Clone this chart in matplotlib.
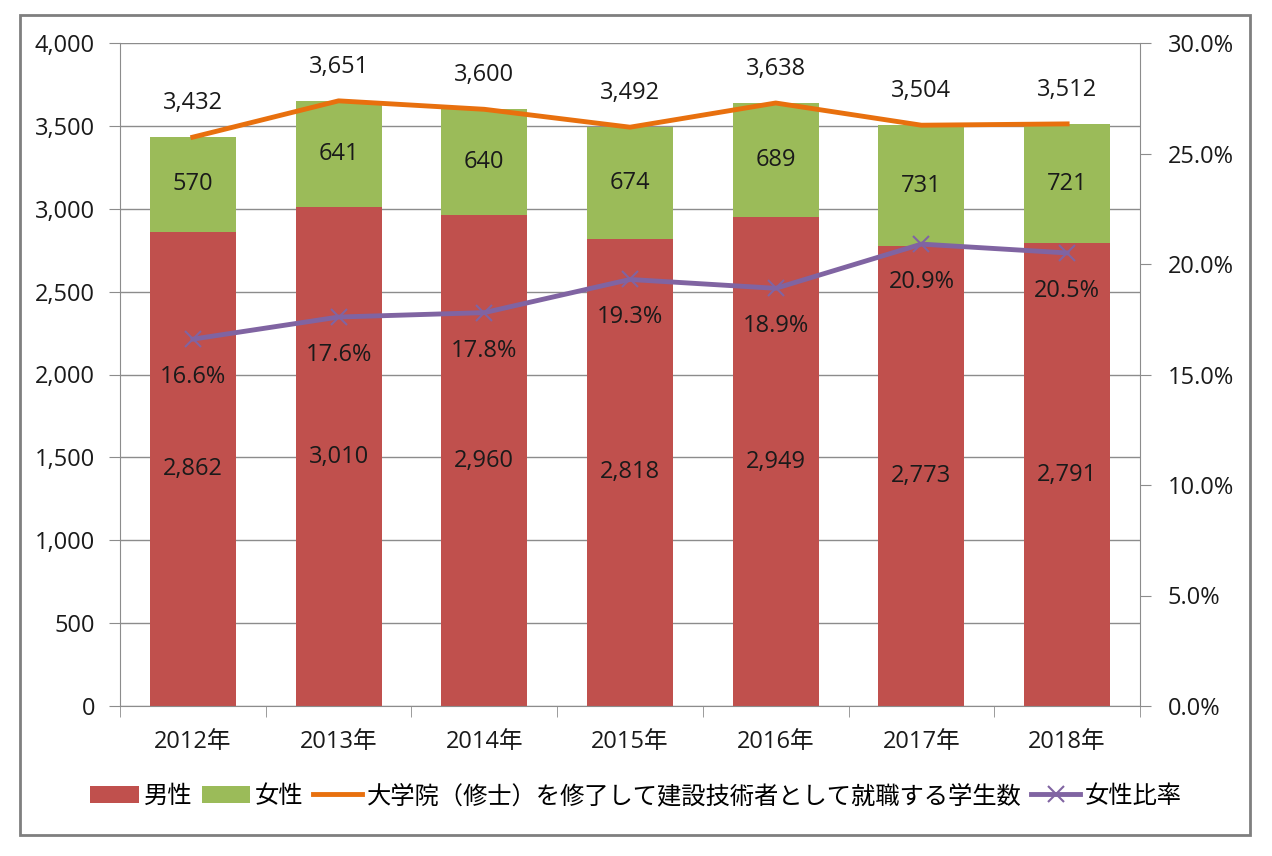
import numpy as np
import matplotlib
matplotlib.use('Agg')
import matplotlib.pyplot as plt
from matplotlib.patches import Rectangle
from matplotlib.ticker import FuncFormatter

plt.rcParams['font.family'] = ['Open Sans', 'Noto Sans CJK JP', 'DejaVu Sans']
plt.rcParams['font.size'] = 17

years = ['2012年', '2013年', '2014年', '2015年', '2016年', '2017年', '2018年']
male = [2862, 3010, 2960, 2818, 2949, 2773, 2791]
female = [570, 641, 640, 674, 689, 731, 721]
total = [3432, 3651, 3600, 3492, 3638, 3504, 3512]
ratio = [16.6, 17.6, 17.8, 19.3, 18.9, 20.9, 20.5]

red = '#C0504D'
green = '#9BBB59'
orange = '#E8700E'
purple = '#8064A2'
gray = '#8C8C8C'
txt = '#1a1a1a'

fig = plt.figure(figsize=(12.72, 8.56), dpi=100)
fig.patches.append(Rectangle((20 / 1272, 1 - 835 / 856), 1230 / 1272, 820 / 856,
                             transform=fig.transFigure, fill=False,
                             edgecolor='#7f7f7f', linewidth=2))

ax = fig.add_axes([120 / 1272, 1 - 706 / 856, 1020 / 1272, 663 / 856])
x = np.arange(len(years))
w = 0.59

b1 = ax.bar(x, male, w, color=red, label='男性', zorder=2)
b2 = ax.bar(x, female, w, bottom=male, color=green, label='女性', zorder=2)
l1, = ax.plot(x, total, color=orange, linewidth=3.5, label='大学院（修士）を修了して建設技術者として就職する学生数', zorder=3)

ax.set_xlim(-0.5, len(years) - 0.5)
ax.set_ylim(0, 4000)
ax.set_yticks(np.arange(0, 4001, 500))
ax.yaxis.set_major_formatter(FuncFormatter(lambda v, p: f'{int(v):,}'))
ax.grid(axis='y', color=gray, linewidth=1, zorder=0)
ax.set_axisbelow(True)
ax.set_xticks(x)
ax.set_xticklabels(years)
ax.set_xticks(np.arange(-0.5, len(years), 1), minor=True)
ax.tick_params(axis='x', which='major', length=0, pad=17, colors=txt)
ax.tick_params(axis='x', which='minor', length=8, color=gray, direction='out')
ax.tick_params(axis='y', length=8, color=gray, colors=txt, pad=10)
for s in ['top', 'right']:
    ax.spines[s].set_visible(False)
for s in ['left', 'bottom']:
    ax.spines[s].set_color(gray)

for i in range(len(years)):
    ax.text(x[i], male[i] / 2, f'{male[i]:,}', ha='center', va='center', color=txt, zorder=5)
    ax.text(x[i], male[i] + female[i] / 2, f'{female[i]:,}', ha='center', va='center', color=txt, zorder=5)
    ax.annotate(f'{total[i]:,}', (x[i], total[i]), xytext=(0, 34), textcoords='offset pixels',
                ha='center', va='center', color=txt, zorder=5)

ax2 = ax.twinx()
l2, = ax2.plot(x, ratio, color=purple, linewidth=3.5, marker='x', markersize=12,
               markeredgewidth=1.5, label='女性比率', zorder=4)
ax2.set_ylim(0, 30)
ax2.set_yticks(np.arange(0, 31, 5))
ax2.yaxis.set_major_formatter(FuncFormatter(lambda v, p: f'{v:.1f}%'))
ax2.tick_params(axis='y', length=8, color=gray, colors=txt, pad=12)
for s in ['top', 'left', 'bottom']:
    ax2.spines[s].set_visible(False)
ax2.spines['right'].set_color(gray)
for i in range(len(years)):
    ax2.annotate(f'{ratio[i]:.1f}%', (x[i], ratio[i]), xytext=(0, -38), textcoords='offset pixels',
                 ha='center', va='center', color=txt, zorder=5)

fig.legend([b1, b2, l1, l2], [b1.get_label(), b2.get_label(), l1.get_label(), l2.get_label()],
           loc='center', bbox_to_anchor=(0.5, 1 - 797 / 856), ncol=4, frameon=False,
           handlelength=2.0, handletextpad=0.2, columnspacing=0.4, fontsize=17.5)

plt.savefig('out.png', dpi=100)
